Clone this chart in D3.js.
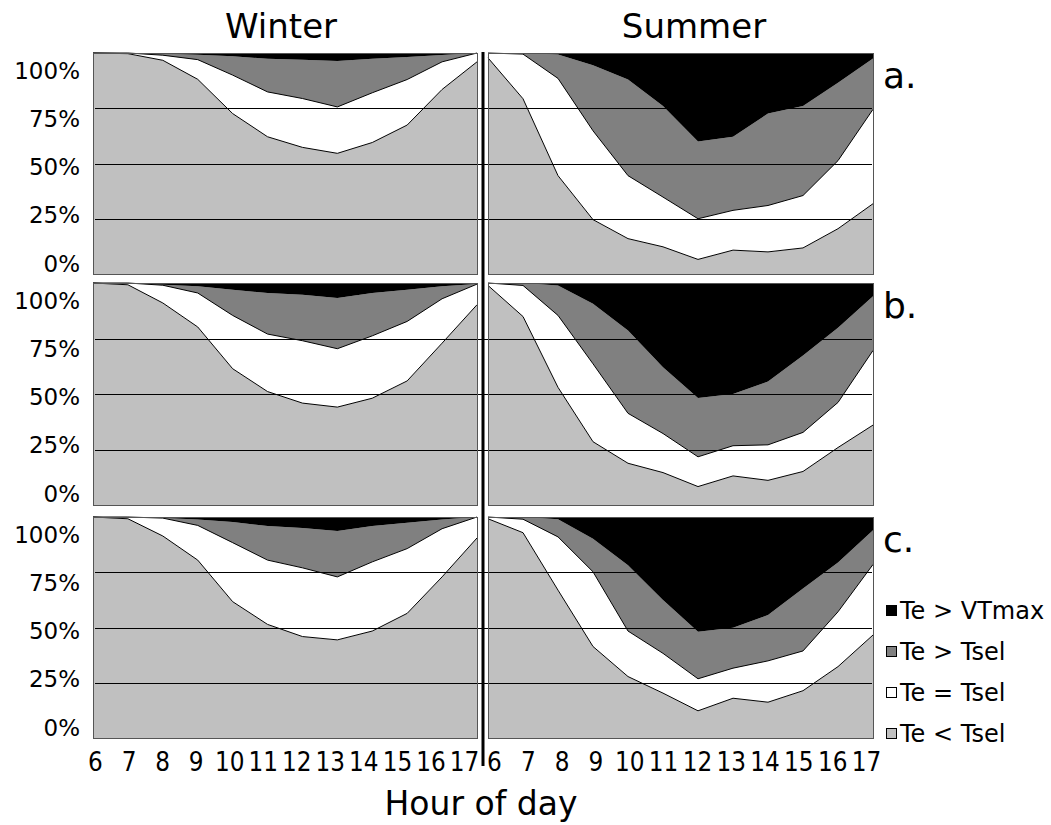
<!DOCTYPE html>
<html>
<head>
<meta charset="utf-8">
<script src="https://cdnjs.cloudflare.com/ajax/libs/d3/7.8.5/d3.min.js"></script>
<style>
  body { margin: 0; background: #fff; }
  text { font-family: "DejaVu Sans", sans-serif; fill: #000; }
</style>
</head>
<body>
<svg id="chart" width="1051" height="825"></svg>
<script>
// ---- data -------------------------------------------------------------
const hours = [6, 7, 8, 9, 10, 11, 12, 13, 14, 15, 16, 17];
const categories = ["Te < Tsel", "Te = Tsel", "Te > Tsel", "Te > VTmax"];
const yTickValues = [0, 25, 50, 75, 100];
const seasons = ["Winter", "Summer"];
const sites = ["a.", "b.", "c."];

// percentage of operative temperatures in each class, per hour
const winterA_below = [100, 99.7, 96.7, 88.1, 72.6, 62.1, 57.3, 54.6, 59.5, 67.4, 83.5, 96.0];
const winterA_equal = [0, 0.3, 2.3, 8.9, 17.4, 20.3, 22.1, 21.0, 22.5, 20.6, 12.5, 4.0];
const winterA_above = [0, 0, 0.7, 2.2, 8.5, 15.0, 17.6, 20.8, 15.4, 10.2, 3.1, 0];
const winterA_max   = [0, 0, 0.3, 0.8, 1.5, 2.6, 3.0, 3.6, 2.6, 1.8, 0.9, 0];

const summerA_below = [97.8, 79.3, 44.5, 24.6, 16.0, 12.3, 6.6, 10.8, 10.0, 11.8, 20.5, 31.8];
const summerA_equal = [2.2, 20.2, 44.0, 40.2, 28.5, 22.5, 18.4, 18.0, 21.0, 23.7, 30.8, 42.7];
const summerA_above = [0, 0.5, 10.8, 29.7, 43.5, 41.2, 35.0, 33.3, 41.6, 40.5, 35.2, 23.0];
const summerA_max   = [0, 0, 0.7, 5.5, 12.0, 24.0, 40.0, 37.9, 27.4, 24.0, 13.5, 2.5];

const winterB_below = [100, 99.2, 91.0, 80.2, 61.4, 51.1, 45.9, 44.1, 48.1, 55.9, 72.9, 90.2];
const winterB_equal = [0, 0.8, 8.0, 15.3, 24.0, 25.9, 28.1, 26.3, 28.1, 26.8, 20.0, 9.3];
const winterB_above = [0, 0, 0.2, 3.0, 11.6, 18.5, 20.7, 22.8, 19.3, 14.3, 5.6, 0];
const winterB_max   = [0, 0, 0.8, 1.5, 3.0, 4.5, 5.3, 6.8, 4.5, 3.0, 1.5, 0.5];

const summerB_below = [98.9, 84.9, 53.0, 28.5, 18.8, 14.6, 8.3, 13.1, 11.1, 15.1, 25.9, 36.0];
const summerB_equal = [1.1, 14.0, 32.4, 35.1, 22.5, 17.6, 13.4, 13.6, 16.0, 17.6, 20.3, 33.6];
const summerB_above = [0, 1.1, 13.5, 27.1, 37.3, 29.8, 26.5, 23.3, 28.5, 34.6, 33.6, 24.4];
const summerB_max   = [0, 0, 1.1, 9.3, 21.4, 38.0, 51.8, 50.0, 44.4, 32.7, 20.2, 6.0];

const winterC_below = [100, 99.2, 91.4, 80.5, 61.7, 51.4, 45.9, 44.4, 48.4, 56.4, 72.9, 90.5];
const winterC_equal = [0, 0.8, 8.1, 15.7, 26.7, 29.1, 31.1, 28.5, 31.3, 29.3, 21.8, 9.5];
const winterC_above = [0, 0, 0, 2.7, 9.3, 15.4, 18.0, 20.8, 16.2, 11.7, 4.2, 0];
const winterC_max   = [0, 0, 0.5, 1.1, 2.3, 4.1, 5.0, 6.3, 4.1, 2.6, 1.1, 0];

const summerC_below = [99.2, 92.9, 66.9, 41.4, 27.8, 20.3, 12.3, 18.0, 16.2, 21.4, 32.3, 46.6];
const summerC_equal = [0.8, 6.1, 24.1, 33.8, 20.6, 18.0, 14.5, 13.6, 18.7, 18.0, 24.8, 31.9];
const summerC_above = [0, 1.0, 8.0, 15.0, 29.8, 24.1, 21.3, 18.3, 20.7, 28.3, 22.3, 15.5];
const summerC_max   = [0, 0, 1.0, 9.8, 21.8, 37.6, 51.9, 50.1, 44.4, 32.3, 20.6, 6.0];

const panels = [
  { row: 0, col: 0, series: [winterA_below, winterA_equal, winterA_above, winterA_max] },
  { row: 0, col: 1, series: [summerA_below, summerA_equal, summerA_above, summerA_max] },
  { row: 1, col: 0, series: [winterB_below, winterB_equal, winterB_above, winterB_max] },
  { row: 1, col: 1, series: [summerB_below, summerB_equal, summerB_above, summerB_max] },
  { row: 2, col: 0, series: [winterC_below, winterC_equal, winterC_above, winterC_max] },
  { row: 2, col: 1, series: [summerC_below, summerC_equal, summerC_above, summerC_max] }
];

// ---- layout -----------------------------------------------------------
const colors = ["#c0c0c0", "#ffffff", "#808080", "#000000"];
const columns = [{ x0: 93, x1: 477 }, { x0: 488, x1: 873 }];
const rows = [{ y0: 53, y1: 274 }, { y0: 283, y1: 505 }, { y0: 517, y1: 738 }];

const svg = d3.select("#chart");

const xScales = columns.map(c => d3.scaleLinear().domain([6, 17]).range([c.x0, c.x1]));
const yScales = rows.map(r => d3.scaleLinear().domain([0, 100]).range([r.y1, r.y0]));

const stack = d3.stack().keys(d3.range(categories.length));

const gPanels = svg.append("g");

panels.forEach(p => {
  const x = xScales[p.col];
  const y = yScales[p.row];
  const table = hours.map((h, i) => {
    const o = { hour: h };
    p.series.forEach((s, k) => { o[k] = s[i]; });
    return o;
  });
  const layers = stack(table);
  const g = gPanels.append("g");

  const area = d3.area()
    .x(d => x(d.data.hour))
    .y0(d => y(d[0]))
    .y1(d => y(d[1]));

  g.selectAll("path.layer")
    .data(layers)
    .join("path")
    .attr("class", "layer")
    .attr("d", area)
    .attr("fill", (d, i) => colors[i]);

  // outlines of the two lower bands
  const edge = d3.line()
    .x(d => x(d.data.hour))
    .y(d => y(d[1]));
  g.selectAll("path.edge")
    .data(layers.slice(0, 2))
    .join("path")
    .attr("class", "edge")
    .attr("d", edge)
    .attr("fill", "none")
    .attr("stroke", "#000")
    .attr("stroke-width", 1);
});

// horizontal grid lines running across both columns
rows.forEach((r, ri) => {
  const y = yScales[ri];
  svg.append("g")
    .selectAll("line")
    .data([25, 50, 75])
    .join("line")
    .attr("x1", columns[0].x0 + 2)
    .attr("x2", columns[1].x1 - 1)
    .attr("y1", d => Math.round(y(d)) + 0.5)
    .attr("y2", d => Math.round(y(d)) + 0.5)
    .attr("stroke", "#000")
    .attr("stroke-width", 1);
});

// panel frames
panels.forEach(p => {
  const c = columns[p.col], r = rows[p.row];
  svg.append("rect")
    .attr("x", c.x0 + 0.5).attr("y", r.y0 + 0.5)
    .attr("width", c.x1 - c.x0).attr("height", r.y1 - r.y0)
    .attr("fill", "none")
    .attr("stroke", "#555")
    .attr("stroke-width", 1);
});

// divider between seasons
svg.append("line")
  .attr("x1", 483).attr("x2", 483)
  .attr("y1", 52).attr("y2", 766)
  .attr("stroke", "#000").attr("stroke-width", 3);

// y tick labels
rows.forEach(r => {
  const labelScale = d3.scaleLinear().domain([0, 100]).range([r.y0 + 218, r.y0 + 25]);
  const ax = svg.append("g")
    .attr("transform", `translate(80,0)`)
    .call(d3.axisLeft(labelScale).tickValues(yTickValues).tickSize(0).tickPadding(0)
      .tickFormat(d => d + "%"));
  ax.select(".domain").remove();
  ax.selectAll("text")
    .attr("dy", 0)
    .attr("x", 0)
    .attr("font-size", 23)
    .attr("font-family", "DejaVu Sans")
    .attr("fill", "#000");
});

// hour labels
const labelRanges = [[95, 464], [494, 866]];
labelRanges.forEach(rg => {
  const lx = d3.scalePoint().domain(hours).range(rg);
  const ax = svg.append("g")
    .attr("transform", "translate(0,771)")
    .call(d3.axisBottom(lx).tickSize(0).tickPadding(0));
  ax.select(".domain").remove();
  ax.selectAll("text")
    .attr("y", 0)
    .attr("dy", 0)
    .attr("font-size", 27)
    .attr("font-family", "DejaVu Sans")
    .attr("transform", "scale(0.86,1)")
    .attr("fill", "#000");
});

// season titles
const titleX = [281, 694];
svg.selectAll("text.season")
  .data(seasons)
  .join("text")
  .attr("class", "season")
  .attr("x", (d, i) => titleX[i])
  .attr("y", 38)
  .attr("text-anchor", "middle")
  .attr("font-size", 34)
  .text(d => d);

// site letters
svg.selectAll("text.site")
  .data(sites)
  .join("text")
  .attr("class", "site")
  .attr("x", 883)
  .attr("y", (d, i) => rows[i].y0 + 35)
  .attr("font-size", 36)
  .text(d => d);

// axis title
svg.append("text")
  .attr("x", 481)
  .attr("y", 815)
  .attr("text-anchor", "middle")
  .attr("font-size", 33)
  .text("Hour of day");

// legend (top entry first)
const legendOrder = categories.map((c, i) => ({ name: c, color: colors[i] })).reverse();
const leg = svg.append("g").selectAll("g")
  .data(legendOrder)
  .join("g")
  .attr("transform", (d, i) => `translate(886,${619 + i * 41})`);
leg.append("rect")
  .attr("x", 0.5).attr("y", -13.5)
  .attr("width", 10).attr("height", 10)
  .attr("fill", d => d.color)
  .attr("stroke", "#000").attr("stroke-width", 1);
leg.append("text")
  .attr("x", 14)
  .attr("y", 0)
  .attr("font-size", 24)
  .text(d => d.name);
</script>
</body>
</html>
